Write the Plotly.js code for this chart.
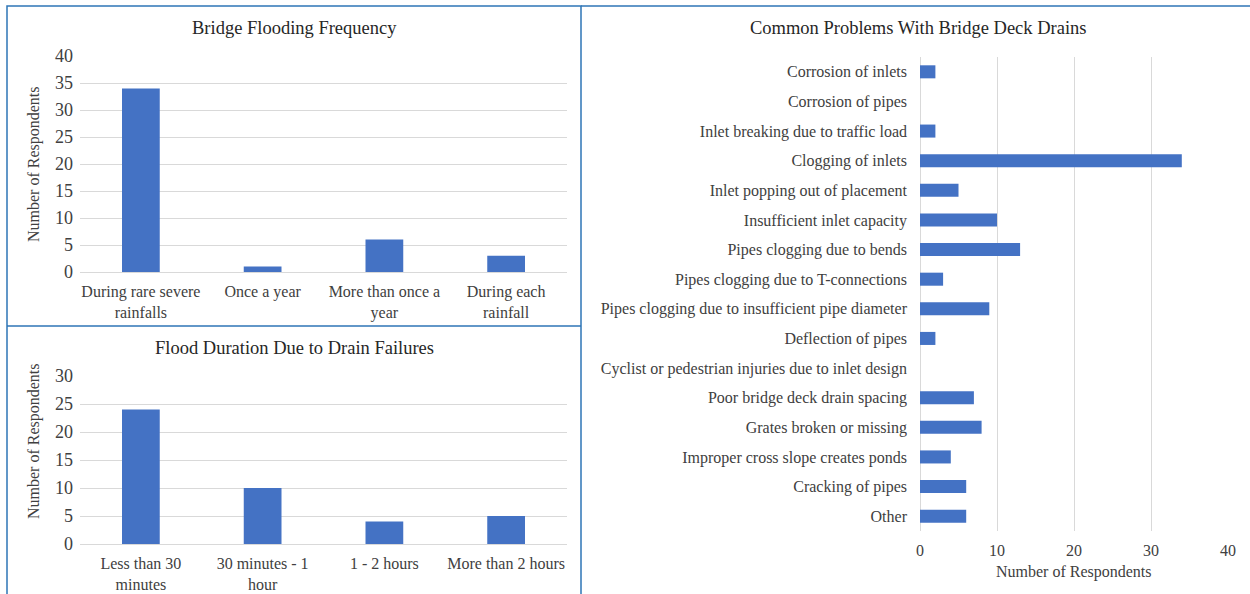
<!DOCTYPE html>
<html><head><meta charset="utf-8">
<script src="https://cdn.plot.ly/plotly-3.0.1.min.js"></script>
<style>body{margin:0;padding:0;background:#fff}#chart{width:1250px;height:594px}</style>
</head><body><div id="chart"></div>
<script>
const freqCats = ["During rare severe<br>rainfalls", "Once a year", "More than once a<br>year", "During each<br>rainfall"];
const freqVals = [34, 1, 6, 3];

const durCats = ["Less than 30<br>minutes", "30 minutes - 1<br>hour", "1 - 2 hours", "More than 2 hours"];
const durVals = [24, 10, 4, 5];

const probCats = ["Corrosion of inlets", "Corrosion of pipes", "Inlet breaking due to traffic load", "Clogging of inlets",
  "Inlet popping out of placement", "Insufficient inlet capacity", "Pipes clogging due to bends",
  "Pipes clogging due to T-connections", "Pipes clogging due to insufficient pipe diameter", "Deflection of pipes",
  "Cyclist or pedestrian injuries due to inlet design", "Poor bridge deck drain spacing", "Grates broken or missing",
  "Improper cross slope creates ponds", "Cracking of pipes", "Other"];
const probVals = [2, 0, 2, 34, 5, 10, 13, 3, 9, 2, 0, 7, 8, 4, 6, 6];

const W = 1250, H = 594;
const px = v => v / W, py = v => 1 - v / H;
const barColor = '#4472C4';
const fam = 'Liberation Serif, Times New Roman, serif';
const font = {family: fam, color: '#404040'};
const grid = '#d9d9d9';
const blue = '#2E75B6';

const traces = [
  {type: 'bar', x: freqCats, y: freqVals, width: 0.31, marker: {color: barColor}, xaxis: 'x', yaxis: 'y', hoverinfo: 'none'},
  {type: 'bar', x: durCats, y: durVals, width: 0.31, marker: {color: barColor}, xaxis: 'x2', yaxis: 'y2', hoverinfo: 'none'},
  {type: 'bar', orientation: 'h', y: probCats, x: probVals, width: 0.44, marker: {color: barColor}, xaxis: 'x3', yaxis: 'y3', hoverinfo: 'none'}
];

const catAxis = (dom, anchor) => ({domain: dom, anchor: anchor, showgrid: false, zeroline: false, showline: false,
  ticks: '', ticklabelstandoff: 8, tickfont: {size: 16, family: fam, color: '#404040'}, fixedrange: true});
const valAxis = (dom, anchor, range) => ({domain: dom, anchor: anchor, range: range, dtick: 5, showgrid: true, gridcolor: grid, gridwidth: 1,
  zeroline: true, zerolinecolor: grid, zerolinewidth: 1, showline: false, ticks: '', ticklabelstandoff: 6,
  tickfont: {size: 18, family: fam, color: '#404040'}, fixedrange: true});

const ann = (text, x, y, size, extra) => Object.assign({text: text, x: px(x), y: py(y), xref: 'paper', yref: 'paper',
  xanchor: 'center', yanchor: 'middle', showarrow: false, font: {size: size, family: fam, color: '#262626'}}, extra || {});

const layout = {
  width: W, height: H, margin: {l: 0, r: 0, t: 0, b: 0}, showlegend: false,
  paper_bgcolor: '#fff', plot_bgcolor: '#fff', font: font,
  xaxis: catAxis([px(80), px(567)], 'y'),
  yaxis: valAxis([py(272), py(56)], 'x', [0, 40]),
  xaxis2: catAxis([px(80), px(567)], 'y2'),
  yaxis2: valAxis([py(544), py(376)], 'x2', [0, 30]),
  xaxis3: {domain: [px(920), px(1228)], anchor: 'y3', range: [0, 40], dtick: 10, showgrid: true, gridcolor: grid,
    zeroline: true, zerolinecolor: grid, showline: false, ticks: '', ticklabelstandoff: 8,
    tickfont: {size: 16, family: fam, color: '#404040'}, fixedrange: true},
  yaxis3: {domain: [py(531), py(57)], anchor: 'x3', autorange: 'reversed', showgrid: false, zeroline: false, showline: false,
    ticks: '', ticklabelstandoff: 12, tickfont: {size: 16, family: fam, color: '#404040'}, fixedrange: true},
  annotations: [
    ann('Bridge Flooding Frequency', 294, 28, 18.5),
    ann('Flood Duration Due to Drain Failures', 294, 348, 18.5),
    ann('Common Problems With Bridge Deck Drains', 918, 28, 18.5),
    ann('Number of Respondents', 34, 164, 16, {textangle: -90, font: {size: 16, family: fam, color: '#404040'}}),
    ann('Number of Respondents', 34, 441, 16, {textangle: -90, font: {size: 16, family: fam, color: '#404040'}}),
    ann('Number of Respondents', 1074, 572, 16, {font: {size: 16, family: fam, color: '#404040'}})
  ],
  shapes: [
    {type: 'rect', xref: 'paper', yref: 'paper', x0: px(7), x1: px(581), y0: py(600), y1: py(6), line: {color: blue, width: 1.5}},
    {type: 'line', xref: 'paper', yref: 'paper', x0: px(7), x1: px(581), y0: py(326), y1: py(326), line: {color: blue, width: 1.5}},
    {type: 'line', xref: 'paper', yref: 'paper', x0: px(581), x1: px(1250), y0: py(6), y1: py(6), line: {color: blue, width: 1.5}}
  ]
};

Plotly.newPlot('chart', traces, layout, {staticPlot: true, displayModeBar: false});
</script></body></html>
